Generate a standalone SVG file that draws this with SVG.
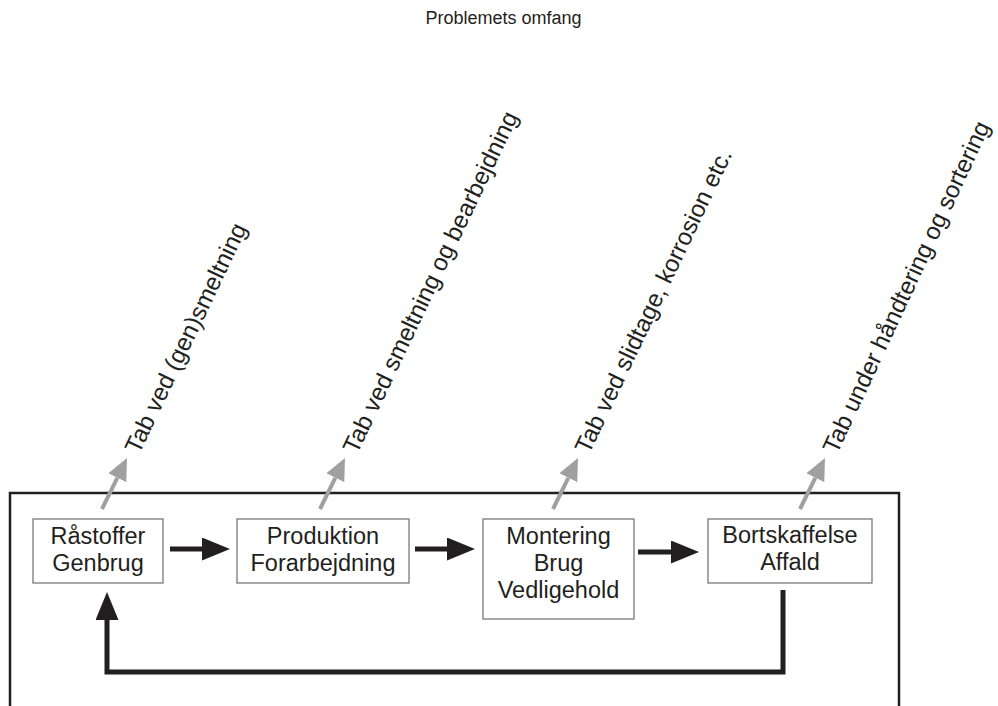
<svg xmlns="http://www.w3.org/2000/svg" width="998" height="706" viewBox="0 0 998 706">
<defs>
<style>
.box{fill:#fff;stroke:#6d6e71;stroke-width:1.2}
.t{font-family:"Liberation Sans",Arial,sans-serif;font-size:23.5px;fill:#231f20;text-anchor:middle}
.lbl{font-family:"Liberation Sans",Arial,sans-serif;font-size:24.2px;fill:#231f20}
.blk{fill:none;stroke:#231f20;stroke-width:5}
.gry{fill:none;stroke:#a0a0a0;stroke-width:4;marker-end:url(#gh)}
</style>
<marker id="gh" markerUnits="userSpaceOnUse" viewBox="0 0 22 20" refX="0" refY="10" markerWidth="22" markerHeight="20" orient="auto">
<path d="M0,0 L22,10 L0,20 Z" fill="#a0a0a0"/>
</marker>
<marker id="bh" markerUnits="userSpaceOnUse" viewBox="0 0 28 23" refX="0" refY="11.5" markerWidth="28" markerHeight="23" orient="auto">
<path d="M0,0 L28,11.5 L0,23 Z" fill="#231f20"/>
</marker>
</defs>
<rect width="998" height="706" fill="#fff"/>
<text x="503.5" y="24" font-family="Liberation Sans, Arial, sans-serif" font-size="18" fill="#231f20" text-anchor="middle">Problemets omfang</text>
<path d="M10,706 V493 H899 V706" fill="none" stroke="#231f20" stroke-width="2.5"/>
<g id="n1"><rect class="box" x="33" y="519" width="130" height="64"/><text class="t" x="98" y="544">Råstoffer</text><text class="t" x="98" y="571">Genbrug</text></g>
<g id="n2"><rect class="box" x="237" y="519" width="172" height="64"/><text class="t" x="323" y="544">Produktion</text><text class="t" x="323" y="571">Forarbejdning</text></g>
<g id="n3"><rect class="box" x="483" y="519" width="151" height="100"/><text class="t" x="558.5" y="544">Montering</text><text class="t" x="558.5" y="571">Brug</text><text class="t" x="558.5" y="598">Vedligehold</text></g>
<g id="n4"><rect class="box" x="708" y="519" width="164" height="64"/><text class="t" x="790" y="543">Bortskaffelse</text><text class="t" x="790" y="570">Affald</text></g>
<g id="labels">
<text class="lbl" transform="translate(139,455) rotate(-64.5)">Tab ved (gen)smeltning</text>
<text class="lbl" transform="translate(357,455) rotate(-64.5)">Tab ved smeltning og bearbejdning</text>
<text class="lbl" transform="translate(589,455) rotate(-64.5)">Tab ved slidtage, korrosion etc.</text>
<text class="lbl" transform="translate(837,455) rotate(-65)">Tab under håndtering og sortering</text>
</g>
<g id="connectors">
<path class="blk" d="M170,549 H202" marker-end="url(#bh)"/>
<path class="blk" d="M415,549 H447" marker-end="url(#bh)"/>
<path class="blk" d="M638,552 H671" marker-end="url(#bh)"/>
<path class="blk" stroke-width="4" d="M783,590 V672 H107 V620" marker-end="url(#bh)"/>
<path class="gry" d="M102,509 L117.3,477.8"/>
<path class="gry" d="M320,509 L335.3,477.8"/>
<path class="gry" d="M553,509 L568.3,477.8"/>
<path class="gry" d="M800,509 L815.3,477.8"/>
</g>
</svg>
